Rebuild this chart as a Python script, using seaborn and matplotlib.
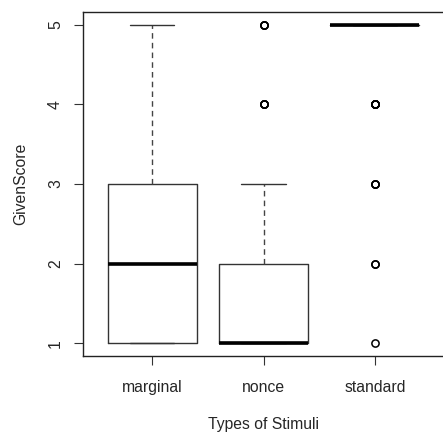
import numpy as np
import pandas as pd
import matplotlib
matplotlib.use("Agg")
import matplotlib.pyplot as plt
import seaborn as sns

categories = ["marginal", "nonce", "standard"]
scores = [1, 2, 3, 4, 5]
# number of responses at each score (1..5) per stimulus type
marginal_counts = [25, 20, 20, 8, 7]
nonce_counts = [45, 20, 8, 4, 3]
standard_counts = [1, 2, 3, 6, 68]
y_ticks = [1, 2, 3, 4, 5]

rows = []
for cat, counts in zip(categories, [marginal_counts, nonce_counts, standard_counts]):
    for s, c in zip(scores, counts):
        rows += [(cat, s)] * c
df = pd.DataFrame(rows, columns=["Types of Stimuli", "GivenScore"])

sns.set_style("white")
plt.rcParams["font.family"] = ["Liberation Sans", "DejaVu Sans"]
FS = 11.3

fig = plt.figure(figsize=(4.43, 4.32), dpi=100)
ax = fig.add_axes([83 / 443, 76 / 432, 361 / 443, 344 / 432])

sns.boxplot(
    data=df, x="Types of Stimuli", y="GivenScore", order=categories,
    fill=False, width=0.8, whis=1.5, linecolor="#222222", linewidth=1.0,
    ax=ax,
    boxprops=dict(color="#333333", linewidth=1.0),
    whiskerprops=dict(color="#444444", linewidth=1.0, linestyle=(0, (4, 3))),
    capprops=dict(color="#333333", linewidth=1.0),
    medianprops=dict(color="black", linewidth=2.6, solid_capstyle="butt"),
    flierprops=dict(marker="o", markersize=5.2, markerfacecolor="none",
                    markeredgecolor="black", markeredgewidth=1.1),
)

ax.set_xlim(-0.62, 2.62)
ax.set_ylim(0.84, 5.16)
ax.set_yticks(y_ticks)
ax.set_yticklabels([str(v) for v in y_ticks], rotation=90, va="center", fontsize=FS)
ax.tick_params(axis="both", direction="out", length=6.5, width=0.8, color="#333333",
               left=True, bottom=True, labelsize=FS)
ax.tick_params(axis="y", pad=8)
ax.tick_params(axis="x", pad=11)
for sp in ax.spines.values():
    sp.set_visible(True)
    sp.set_color("#222222")
    sp.set_linewidth(1.0)

ax.set_xlabel("Types of Stimuli", fontsize=FS, labelpad=15.5)
ax.set_ylabel("GivenScore", fontsize=FS, labelpad=14)
ax.grid(False)

fig.savefig("out.png", dpi=100)
